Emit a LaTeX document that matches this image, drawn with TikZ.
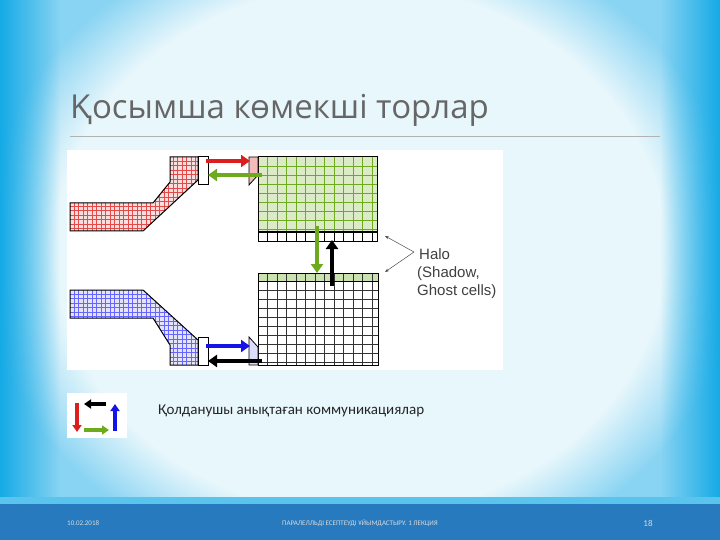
\documentclass[tikz,border=0pt]{standalone}
\usetikzlibrary{arrows.meta,fadings}
\usepackage{fontspec}
\setmainfont{Carlito}
\newfontfamily\ttlfont{Open Sans}
\newfontfamily\arialf{Liberation Sans}
\begin{document}
\begin{tikzpicture}[x=1pt,y=-1pt,
  blk/.style={draw=black,line width=1pt},
  arr/.style={line width=4.5pt,-{Triangle[length=9pt,width=12pt]}},
  sarr/.style={line width=3.5pt,-{Triangle[length=7pt,width=9pt]}},
  gridl/.style={line width=0.4pt},
  lbl/.style={font=\arialf\fontsize{15}{17}\selectfont,text=black!75,anchor=west,inner sep=0}]
\useasboundingbox (0,0) rectangle (720,540);
\definecolor{bgblue}{RGB}{20,170,230}
\definecolor{footc}{RGB}{40,122,190}
\definecolor{gr}{RGB}{110,170,30}
\definecolor{rd}{RGB}{220,30,30}
\definecolor{bl}{RGB}{20,20,230}
\fill[bgblue!50] (0,0) rectangle (720,540);
\fill[bgblue!10,path fading=circle with fuzzy edge 20 percent] (360,250) ellipse (380 and 330);
\fill[bgblue,path fading=east] (0,0) rectangle (60,500);
\fill[bgblue,path fading=west] (660,0) rectangle (720,500);
\fill[bgblue!70] (0,497) rectangle (720,504);
\fill[footc] (0,504) rectangle (720,540);
% title
\node[font=\ttlfont\fontsize{33}{36}\selectfont,text=black!60,anchor=west,inner sep=0] (title) at (70,110) {Қосымша көмекші торлар};
\draw[black!30,line width=0.6pt] (70,136) -- (660,136);
% diagram panel
\fill[white] (67,150) rectangle (503,370);
% green block
\fill[gr!25] (258,157) rectangle (377,241);
\foreach \x in {267.5,277,...,377} \draw[gridl,gr] (\x,157) -- (\x,232);
\foreach \y in {166,175,...,232} \draw[gridl,gr] (258,\y) -- (377,\y);
\fill[white] (258,232) rectangle (377,241);
\foreach \x in {267.5,277,...,377} \draw[gridl,black] (\x,232) -- (\x,241);
\draw[blk] (258,157) rectangle (377,241) (258,232) -- (377,232);
% black block
\fill[gr!35] (258,273) rectangle (378,281);
\foreach \x in {267.5,277,...,377} \draw[gridl,black!80] (\x,273) -- (\x,365);
\foreach \y in {290,299,...,365} \draw[gridl,black!80] (258,\y) -- (378,\y);
\draw[blk] (258,273) rectangle (378,365) (258,281) -- (378,281);
% red shape
\path[fill=rd!15] (70,203) -- (153,203) -- (170,182) -- (170,157) -- (198,157) -- (198,180) -- (143,231) -- (70,231) -- cycle;
\begin{scope}\clip (70,203) -- (153,203) -- (170,182) -- (170,157) -- (198,157) -- (198,180) -- (143,231) -- (70,231) -- cycle;
\foreach \x in {74,78.5,...,198} \draw[gridl,rd!80] (\x,157) -- (\x,231);
\foreach \y in {161,165.5,...,231} \draw[gridl,rd!80] (70,\y) -- (198,\y);
\end{scope}
\path[draw=black,line width=1pt] (70,203) -- (153,203) -- (170,182) -- (170,157) -- (198,157) -- (198,180) -- (143,231) -- (70,231) -- cycle;
\draw[blk,fill=white] (198,157) rectangle (208,185);
\path[fill=rd!30,draw=black,line width=0.8pt] (249,157) -- (258,157) -- (258,175) -- (249,185) -- cycle;
% blue shape
\path[fill=bl!12] (70,290) -- (143,290) -- (198,340) -- (198,365) -- (170,365) -- (170,345) -- (153,318) -- (70,318) -- cycle;
\begin{scope}\clip (70,290) -- (143,290) -- (198,340) -- (198,365) -- (170,365) -- (170,345) -- (153,318) -- (70,318) -- cycle;
\foreach \x in {74,78.5,...,198} \draw[gridl,blue!60] (\x,290) -- (\x,365);
\foreach \y in {294,298.5,...,365} \draw[gridl,blue!60] (70,\y) -- (198,\y);
\end{scope}
\path[draw=black,line width=1pt] (70,290) -- (143,290) -- (198,340) -- (198,365) -- (170,365) -- (170,345) -- (153,318) -- (70,318) -- cycle;
\draw[blk,fill=white] (198,337) rectangle (208,365);
\path[fill=bl!15,draw=black,line width=0.8pt] (249,337) -- (258,347) -- (258,365) -- (249,365) -- cycle;
% arrows
\coordinate (r1) at (206,161); \coordinate (r2) at (250,161);
\draw[arr,rd] (r1) -- (r2);
\coordinate (g1) at (262,175); \coordinate (g2) at (208,175);
\draw[arr,gr] (g1) -- (g2);
\coordinate (b1) at (206,346); \coordinate (b2) at (250,346);
\draw[arr,bl] (b1) -- (b2);
\coordinate (k1) at (262,361); \coordinate (k2) at (208,361);
\draw[arr,black] (k1) -- (k2);
\coordinate (gd1) at (317,226); \coordinate (gd2) at (317,273);
\draw[arr,gr] (gd1) -- (gd2);
\coordinate (ku1) at (332,286); \coordinate (ku2) at (332,240);
\draw[arr,black] (ku1) -- (ku2);
% halo labels
\node[lbl] (halo) at (419,254) {Halo};
\node[lbl] (shadow) at (417,274) {(Shadow,};
\node[lbl] (ghost) at (417,292) {Ghost cells)};
\coordinate (h1) at (385,236); \coordinate (h2) at (385,272);
\draw[black!70,line width=0.5pt,-{Stealth[length=4pt]}] (414,252) -- (h1);
\draw[black!70,line width=0.5pt,-{Stealth[length=4pt]}] (414,252) -- (h2);
% icon
\fill[white] (67,393) rectangle (127,438);
\draw[sarr,black] (106,404) -- (84,404);
\draw[sarr,rd] (77,403) -- (77,432);
\draw[sarr,gr] (84,430) -- (109,430);
\draw[sarr,bl] (115,431) -- (115,404);
\node[font=\fontsize{15}{18}\selectfont,anchor=west,inner sep=0,text=black!85] (cap) at (158,411) {Қолданушы анықтаған коммуникациялар};
% footer
\node[font=\fontsize{7}{8}\selectfont,text=white!85!black,anchor=west,inner sep=0] (date) at (67,523) {10.02.2018};
\node[font=\fontsize{7}{8}\selectfont,text=white!85!black,inner sep=0] (foot) at (360,523) {ПАРАЛЕЛЛЬДІ ЕСЕПТЕУДІ ҰЙЫМДАСТЫРУ. 1 ЛЕКЦИЯ};
\node[font=\fontsize{9}{10}\selectfont,text=white!85!black,inner sep=0] (pg) at (648,523) {18};
\end{tikzpicture}
\end{document}
